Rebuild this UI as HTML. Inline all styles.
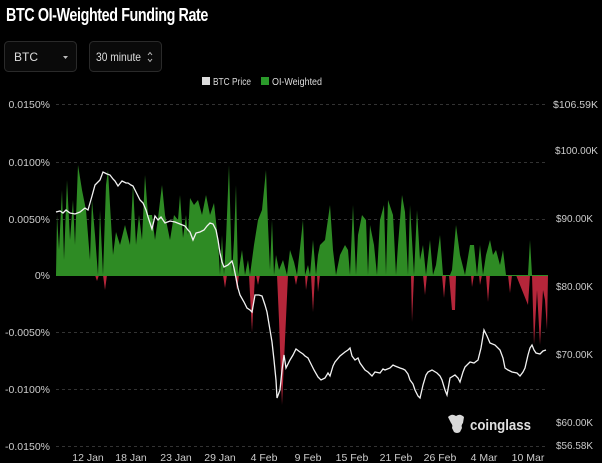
<!DOCTYPE html>
<html><head><style>
body{margin:0;background:#000;width:602px;height:463px;overflow:hidden;font-family:"Liberation Sans",sans-serif;}
</style></head><body>
<svg width="602" height="463" xmlns="http://www.w3.org/2000/svg" style="position:absolute;left:0;top:0">
<rect width="602" height="463" fill="#000"/>
<text x="6" y="21" fill="#fff" font-size="18" font-weight="bold" letter-spacing="-0.5" textLength="202" lengthAdjust="spacingAndGlyphs">BTC OI-Weighted Funding Rate</text>
<rect x="4.5" y="41.5" width="72" height="30" rx="4" fill="#0a0a0a" stroke="#2a2a2a"/>
<text x="14" y="61" fill="#ddd" font-size="12">BTC</text>
<path d="M63 56 l5 0 l-2.5 3z" fill="#bbb"/>
<rect x="89.5" y="41.5" width="72" height="30" rx="4" fill="#0a0a0a" stroke="#2a2a2a"/>
<text x="96" y="61" fill="#ddd" font-size="12" textLength="45" lengthAdjust="spacingAndGlyphs">30 minute</text>
<path d="M148 55 l2 -2.5 l2 2.5 M148 59 l2 2.5 l2 -2.5" stroke="#bbb" fill="none"/>
<rect x="202" y="77" width="8" height="8" fill="#ddd"/>
<text x="213" y="85" fill="#ddd" font-size="10.5" textLength="38" lengthAdjust="spacingAndGlyphs">BTC Price</text>
<rect x="261" y="77" width="8" height="8" fill="#2a9a2a"/>
<text x="272" y="85" fill="#ddd" font-size="10.5" textLength="50" lengthAdjust="spacingAndGlyphs">OI-Weighted</text>
<g stroke="#333" stroke-dasharray="3,3" stroke-width="1">
<line x1="56" x2="548" y1="104.5" y2="104.5"/><line x1="56" x2="548" y1="162.5" y2="162.5"/>
<line x1="56" x2="548" y1="219.5" y2="219.5"/><line x1="56" x2="548" y1="332.5" y2="332.5"/>
<line x1="56" x2="548" y1="389.5" y2="389.5"/><line x1="56" x2="548" y1="446.5" y2="446.5"/>
</g>
<g fill="#ccc" font-size="10.5" text-anchor="end">
<text x="50" y="108">0.0150%</text><text x="50" y="166">0.0100%</text><text x="50" y="223">0.0050%</text>
<text x="50" y="279">0%</text><text x="50" y="336">-0.0050%</text><text x="50" y="393">-0.0100%</text><text x="50" y="450">-0.0150%</text>
</g>
<g fill="#ccc" font-size="10.5" lengthAdjust="spacingAndGlyphs">
<text x="553" y="108" textLength="45" lengthAdjust="spacingAndGlyphs">$106.59K</text><text x="555" y="154" textLength="43" lengthAdjust="spacingAndGlyphs">$100.00K</text><text x="556" y="222" textLength="37" lengthAdjust="spacingAndGlyphs">$90.00K</text>
<text x="556" y="290" textLength="37" lengthAdjust="spacingAndGlyphs">$80.00K</text><text x="556" y="358" textLength="37" lengthAdjust="spacingAndGlyphs">$70.00K</text><text x="556" y="426" textLength="37" lengthAdjust="spacingAndGlyphs">$60.00K</text><text x="556" y="449" textLength="37" lengthAdjust="spacingAndGlyphs">$56.58K</text>
</g>
<g fill="#ccc" font-size="10.5" text-anchor="middle">
<text x="88" y="461">12 Jan</text><text x="131" y="461">18 Jan</text><text x="176" y="461">23 Jan</text><text x="220" y="461">29 Jan</text>
<text x="264" y="461">4 Feb</text><text x="308" y="461">9 Feb</text><text x="352" y="461">15 Feb</text><text x="396" y="461">21 Feb</text>
<text x="440" y="461">26 Feb</text><text x="484" y="461">4 Mar</text><text x="528" y="461">10 Mar</text>
</g>
<polygon fill="#2e8b24" points="56,275 57,215 59,250 62,190 64,260 67,180 70,240 73,200 75,245 78,165 82,190 86,210 90,260 92,200 95,235 98,275 100,210 103,275 106,185 108,170 110,205 113,255 116,232 120,245 125,225 130,245 133,185 136,245 139,215 142,240 145,175 148,215 152,215 155,240 158,218 162,185 165,215 170,240 174,215 178,220 180,195 183,238 186,215 188,235 190,198 194,205 198,200 202,215 206,195 210,215 214,203 218,240 220,275 222,235 224,275 226,240 229,165 232,275 234,240 236,185 238,275 242,250 245,275 248,260 250,275 254,245 258,220 262,210 266,170 268,225 270,270 272,220 274,275 276,255 279,270 283,260 287,275 290,250 294,262 297,275 300,248 303,220 305,275 308,265 310,275 313,240 316,275 318,255 320,245 325,240 330,205 333,250 336,275 340,255 345,245 348,250 350,275 353,205 356,275 358,235 362,215 366,220 368,275 370,225 374,245 377,275 380,220 384,205 386,275 388,200 393,215 396,275 398,245 402,195 405,212 408,275 410,205 414,275 417,210 420,260 423,245 426,275 430,240 433,275 436,265 440,235 443,275 450,275 452,270 456,225 460,255 465,275 470,245 474,245 477,275 480,245 483,275 486,255 490,240 493,255 496,250 500,265 503,250 506,275 528,275 530,240 532,275 548,275"/>
<g fill="#b5263a">
<polygon points="103,275 105,290 107,275"/><polygon points="95,275 97,281 99,275"/>
<polygon points="223,275 225,288 227,275"/><polygon points="235,275 237,290 239,275"/>
<polygon points="249,275 252,332 255,275"/><polygon points="256,275 258,285 260,275"/>
<polygon points="277,275 279,320 282,405 285,340 288,275"/><polygon points="294,275 296,285 298,275"/>
<polygon points="305,275 306,290 308,275"/><polygon points="311,275 313,312 315,275"/><polygon points="317,275 318,292 320,275"/>
<polygon points="411,275 412,322 414,275"/><polygon points="423,275 425,295 427,275"/>
<polygon points="442,275 444,298 446,275"/><polygon points="449,275 452,310 455,310 456,275"/>
<polygon points="471,275 472,287 474,275"/><polygon points="479,275 480,285 482,275"/><polygon points="486,275 488,302 490,275"/>
<polygon points="508,275 510,293 512,275"/><polygon points="516,275 526,300 528,305 530,275"/>
<polygon points="532,275 534,345 537,290 540,345 543,290 545,300 547,330 548,275"/>
</g>
<line x1="56" x2="548" y1="275.5" y2="275.5" stroke="#2e8b24" stroke-width="1"/>
<polyline fill="none" stroke="#f2f2f2" stroke-width="1.3" points="56,212 60,211 63,213 66,210 70,213 75,214 80,212 85,208 88,210 92,196 95,185 100,180 103,172 107,174 110,175 113,179 115,181 118,186 122,181 126,183 128,183 131,185 133,186 136,192 140,200 143,203 146,210 149,220 152,229 155,216 158,220 161,217 165,223 170,221 175,222 180,224 185,226 188,230 190,232 193,240 196,233 200,232 204,230 207,226 210,223 213,224 216,230 218,240 220,253 222,262 224,267 228,265 232,261 234,268 236,278 238,288 240,295 244,302 247,308 250,310 252,312 255,295 259,295 262,296 265,305 267,312 270,330 272,342 274,360 276,380 277,398 280,390 282,370 284,355 286,368 290,360 293,355 296,349 300,352 303,354 305,356 308,358 310,362 314,370 318,377 321,380 325,378 328,373 330,376 333,366 335,362 340,356 345,352 348,350 350,348 352,356 355,360 358,358 360,363 365,370 368,372 372,376 375,372 380,373 383,369 385,370 390,368 393,365 395,366 400,368 403,369 405,370 408,374 410,380 413,384 415,390 418,396 420,398 423,385 426,375 428,372 432,370 437,373 440,376 442,380 445,390 447,395 450,378 455,375 458,378 460,382 463,372 465,367 470,362 474,363 478,360 481,348 484,330 487,336 490,343 495,345 500,350 503,358 505,368 508,370 512,372 517,373 520,376 523,372 525,368 528,355 530,348 532,345 534,350 536,353 540,354 543,351 546,350"/>
<g fill="#d8d8d8">
<path d="M448 417 q4 -4 8 -1 q4 -3 8 1 l-1 6 q-2 2 -1 5 l-2 4 q-3 2 -6 0 l-2 -4 q1 -3 -1 -5z"/>
</g>
<text x="470" y="430" fill="#e0e0e0" font-size="15" font-weight="bold" textLength="61" lengthAdjust="spacingAndGlyphs">coinglass</text>
</svg>
</body></html>
